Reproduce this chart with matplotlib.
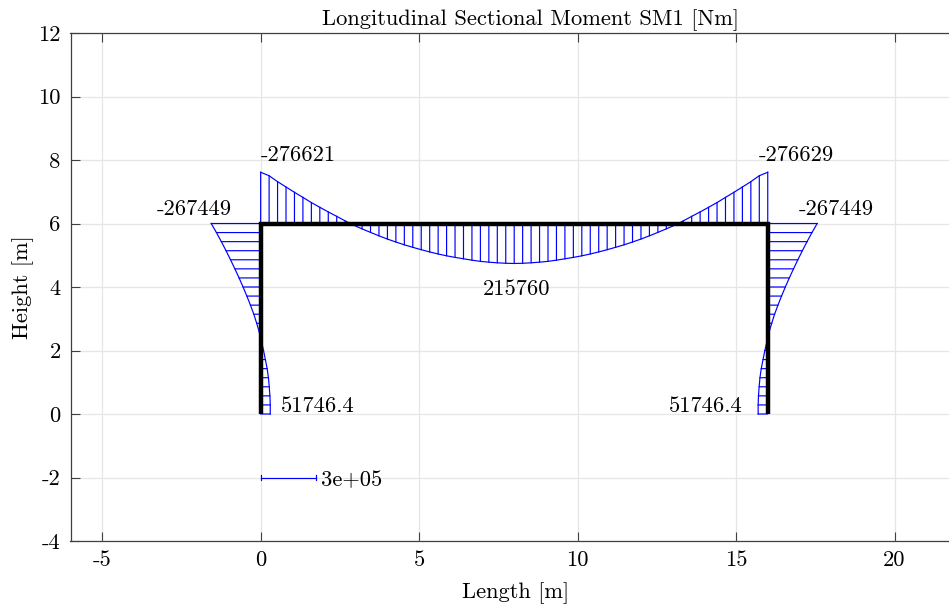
# Longitudinal sectional moment diagram of a portal frame
import matplotlib
matplotlib.use('Agg')
import matplotlib.pyplot as plt

plt.rcParams['font.family'] = ['cmr10', 'DejaVu Serif']
plt.rcParams['axes.formatter.use_mathtext'] = True

# frame geometry
frame_x = [0, 0, 16, 16]
frame_y = [0, 6, 6, 0]

# moment at stations along the beam, left to right [Nm]
beam_moment = [-276621, -258000, -226000, -197000, -168500, -141000, -113000, -87500, -62500, -38500,
               -14000, 9000, 29000, 48000, 66500, 84000, 100000, 115000, 128600, 141400,
               153500, 164600, 174500, 183000, 190500, 198000, 204500, 208800, 212200, 214700,
               215760,
               214700, 212200, 208800, 204500, 198000, 190500, 183000, 174500, 164600, 153500,
               141400, 128600, 115000, 100000, 84000, 66500, 48000, 29000, 9000, -14000,
               -38500, -62500, -87500, -113000, -141000, -168500, -197000, -226000, -258000, -276629]

# moment at stations up each column, base to top [Nm]
column_moment = [51746.4, 52000, 50000, 46500, 42100, 35100, 25500, 15500, 4500, -7000, -21500,
                 -37000, -55200, -74600, -95100, -116700, -139400, -162900, -187200, -212600,
                 -239100, -267449]

scale_moment = 3e5
scale_length = 1.75

xticks = [-5, 0, 5, 10, 15, 20]
yticks = [-4, -2, 0, 2, 4, 6, 8, 10, 12]

fig = plt.figure(figsize=(9.49, 6.08), dpi=100)
ax = fig.add_axes([70.5 / 949, 1 - 541 / 608, 1 - 70.5 / 949, 508 / 608])

blue = '#0000ff'
k = scale_length / scale_moment
FS = 16.2
LW = 0.85

# beam diagram
bx = [i * 16 / (len(beam_moment) - 1) for i in range(len(beam_moment))]
by = [6 - m * k for m in beam_moment]
ax.plot(bx, by, color=blue, lw=LW)
for x, y in zip(bx, by):
    ax.plot([x, x], [6, y], color=blue, lw=LW, snap=False)

# column diagrams
cy = [j * 6 / (len(column_moment) - 1) for j in range(len(column_moment))]
left = [m * k for m in column_moment]
right = [16 - m * k for m in column_moment]
ax.plot(left, cy, color=blue, lw=LW)
ax.plot(right, cy, color=blue, lw=LW)
for y, xl, xr in zip(cy, left, right):
    ax.plot([0, xl], [y, y], color=blue, lw=LW, snap=False)
    ax.plot([16, xr], [y, y], color=blue, lw=LW, snap=False)

ax.plot(frame_x, frame_y, color='k', lw=3.2, solid_joinstyle='miter', solid_capstyle='butt', zorder=5)

# scale bar
ax.plot([0, scale_length], [-2, -2], color=blue, lw=LW)
for x in [0, scale_length]:
    ax.plot([x, x], [-2.07, -1.93], color=blue, lw=LW)
ax.text(1.91, -2.27, '3e+05', fontsize=FS, ha='left', va='baseline')

# value labels
ax.text(0, 7.97, '-276621', fontsize=FS, ha='left', va='baseline')
ax.text(15.72, 7.97, '-276629', fontsize=FS, ha='left', va='baseline')
ax.text(-0.9, 6.27, '-267449', fontsize=FS, ha='right', va='baseline')
ax.text(16.99, 6.27, '-267449', fontsize=FS, ha='left', va='baseline')
ax.text(8.09, 3.75, '215760', fontsize=FS, ha='center', va='baseline')
ax.text(0.647, 0.05, '51746.4', fontsize=FS, ha='left', va='baseline')
ax.text(15.22, 0.05, '51746.4', fontsize=FS, ha='right', va='baseline')

ax.set_xlim(-6, (949 - 260.5) / 31.7)
ax.set_ylim(-4, 12)
ax.set_xticks(xticks)
ax.set_yticks(yticks)
ax.set_xticklabels([str(v) for v in xticks], fontsize=FS)
ax.set_yticklabels([str(v) for v in yticks], fontsize=FS)
ax.tick_params(direction='in', length=6.5, width=0.8, color='#404040', top=True, pad=7)
ax.grid(True, color='#e6e6e6', lw=0.9)
ax.set_axisbelow(True)
for name in ['left', 'top', 'bottom']:
    ax.spines[name].set_color('#404040')
    ax.spines[name].set_linewidth(0.9)
ax.spines['right'].set_visible(False)

fig.text(530 / 949, 1 - 20 / 608, 'Longitudinal Sectional Moment SM1 [Nm]', fontsize=FS, ha='center', va='center')
fig.text(516 / 949, 1 - 593 / 608, 'Length [m]', fontsize=FS, ha='center', va='center')
fig.text(23 / 949, 1 - 287 / 608, 'Height [m]', fontsize=FS, ha='center', va='center', rotation=90)

fig.savefig('out.png', dpi=100)
